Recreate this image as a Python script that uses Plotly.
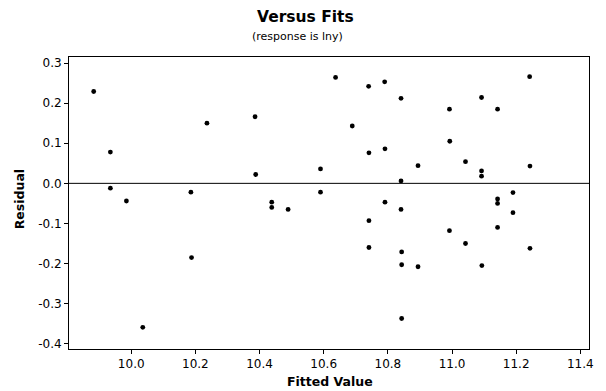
import plotly.graph_objects as go

fitted = [9.883, 9.935, 9.935, 9.985, 10.036, 10.186, 10.188, 10.236, 10.386, 10.388,
          10.438, 10.438, 10.489, 10.590, 10.590, 10.637, 10.689, 10.740, 10.741, 10.741,
          10.741, 10.790, 10.791, 10.791, 10.841, 10.841, 10.841, 10.843, 10.843, 10.843,
          10.894, 10.894, 10.992, 10.993, 10.992, 11.042, 11.042, 11.092, 11.092, 11.092,
          11.093, 11.142, 11.142, 11.142, 11.142, 11.190, 11.190, 11.242, 11.243, 11.243]
residual = [0.229, 0.078, -0.012, -0.044, -0.359, -0.022, -0.185, 0.150, 0.166, 0.022,
            -0.047, -0.060, -0.065, 0.036, -0.022, 0.264, 0.143, 0.242, 0.076, -0.093,
            -0.160, 0.253, 0.086, -0.047, 0.212, 0.006, -0.065, -0.171, -0.203, -0.337,
            0.044, -0.208, 0.185, 0.105, -0.118, 0.054, -0.150, 0.214, 0.031, 0.018,
            -0.205, 0.185, -0.039, -0.050, -0.110, -0.023, -0.073, 0.266, 0.043, -0.162]

x_ticks = [10.0, 10.2, 10.4, 10.6, 10.8, 11.0, 11.2, 11.4]
x_ticklabels = ["10.0", "10.2", "10.4", "10.6", "10.8", "11.0", "11.2", "11.4"]
y_ticks = [-0.4, -0.3, -0.2, -0.1, 0.0, 0.1, 0.2, 0.3]
y_ticklabels = ["-0.4", "-0.3", "-0.2", "-0.1", "0.0", "0.1", "0.2", "0.3"]

FONT = "DejaVu Sans, Liberation Sans, sans-serif"

fig = go.Figure()
fig.add_trace(go.Scatter(
    x=fitted, y=residual, mode="markers",
    marker=dict(color="black", size=4.8, symbol="circle"),
    showlegend=False, hoverinfo="x+y"))

fig.add_hline(y=0, line=dict(color="black", width=1))

fig.update_layout(
    width=606, height=391,
    margin=dict(l=69, r=14, t=57, b=42),
    paper_bgcolor="white", plot_bgcolor="white",
    font=dict(family=FONT, color="black", size=12),
    xaxis=dict(range=[9.806, 11.427], tickvals=x_ticks, ticktext=x_ticklabels,
               showgrid=False, zeroline=False, showline=True, mirror=True,
               linecolor="black", linewidth=1, ticks="outside", ticklen=4,
               tickcolor="black", tickfont=dict(size=12, family=FONT)),
    yaxis=dict(range=[-0.413, 0.315], tickvals=y_ticks, ticktext=y_ticklabels,
               showgrid=False, zeroline=False, showline=True, mirror=True,
               linecolor="black", linewidth=1, ticks="outside", ticklen=4,
               tickcolor="black", tickfont=dict(size=12, family=FONT)),
    annotations=[
        dict(text="<b>Versus Fits</b>", xref="paper", yref="paper",
             x=(307 - 69) / 523, y=(391 - 42 - 17) / 292, yanchor="middle",
             xanchor="center", showarrow=False, font=dict(size=15.5, family=FONT)),
        dict(text="(response is lny)", xref="paper", yref="paper",
             x=(299 - 69) / 523, y=(391 - 42 - 36) / 292, yanchor="middle",
             xanchor="center", showarrow=False, font=dict(size=11, family=FONT)),
        dict(text="<b>Fitted Value</b>", xref="paper", yref="paper",
             x=(332 - 69) / 523, y=(391 - 42 - 382) / 292, yanchor="middle",
             xanchor="center", showarrow=False, font=dict(size=12.5, family=FONT)),
        dict(text="<b>Residual</b>", xref="paper", yref="paper",
             x=(20 - 69) / 523, y=(391 - 42 - 199) / 292, yanchor="middle",
             xanchor="center", textangle=-90, showarrow=False,
             font=dict(size=12.5, family=FONT)),
    ],
)

fig.write_html("out.html", config={"displayModeBar": False},
               post_script="document.body.style.margin='0';document.body.style.overflow='hidden';")
